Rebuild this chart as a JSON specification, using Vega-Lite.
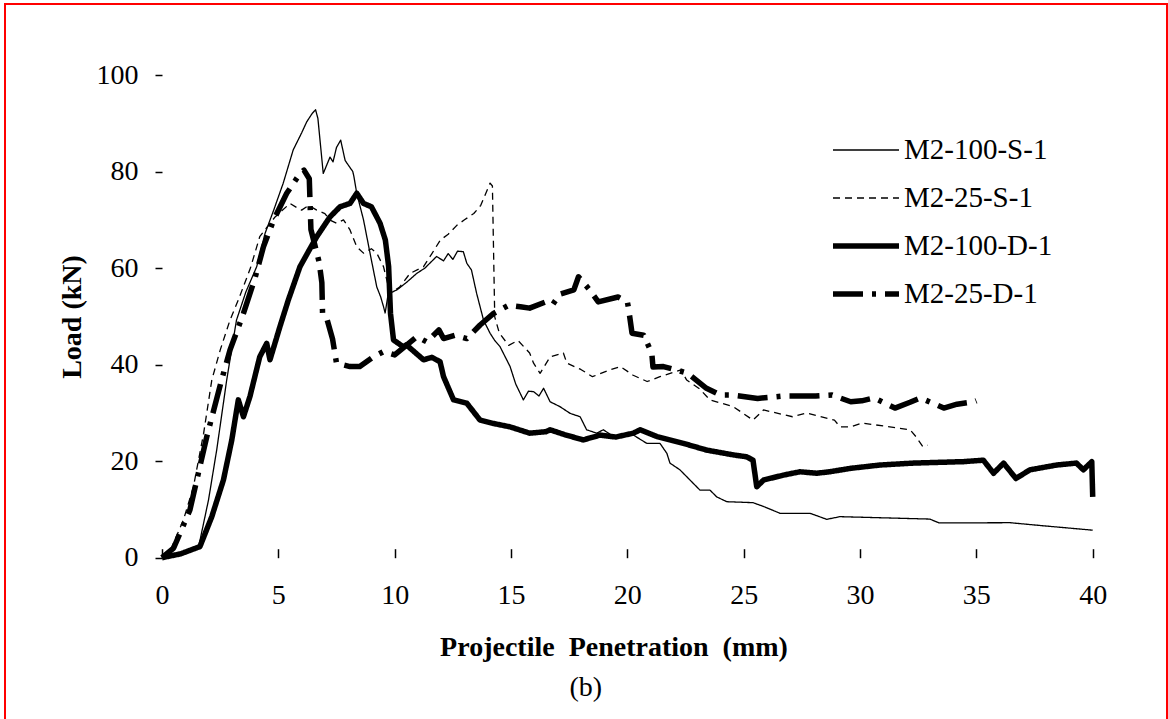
{
"$schema": "https://vega.github.io/schema/vega-lite/v6.json",
"width": 1162, "height": 718,
"autosize": {"type": "none"},
"padding": {"left": 5, "top": 4, "right": 1, "bottom": -3},
"background": "white",
"config": {
 "view": {"stroke": "#ff0000", "strokeWidth": 2},
 "font": "Liberation Serif",
 "axis": {"grid": false, "domain": false, "labelFont": "Liberation Serif", "labelFontSize": 28, "labelColor": "black", "tickColor": "black", "tickWidth": 1.5, "titleFont": "Liberation Serif", "titleFontSize": 28, "titleFontWeight": "bold", "titleColor": "black", "labelFlush": false, "labelOverlap": false}
},
"datasets": {"curves": [
{"series":"M2-100-S-1","x":0,"y":0},{"series":"M2-100-S-1","x":0.8,"y":0.8},{"series":"M2-100-S-1","x":1.56,"y":1.95},{"series":"M2-100-S-1","x":2.0,"y":12},{"series":"M2-100-S-1","x":2.35,"y":22.3},{"series":"M2-100-S-1","x":2.78,"y":36.8},{"series":"M2-100-S-1","x":3.2,"y":49.2},{"series":"M2-100-S-1","x":3.6,"y":55},{"series":"M2-100-S-1","x":4.07,"y":60.3},{"series":"M2-100-S-1","x":4.43,"y":67.2},{"series":"M2-100-S-1","x":4.8,"y":72},{"series":"M2-100-S-1","x":5.21,"y":77.6},{"series":"M2-100-S-1","x":5.64,"y":84.5},{"series":"M2-100-S-1","x":6.0,"y":88},{"series":"M2-100-S-1","x":6.22,"y":90.3},{"series":"M2-100-S-1","x":6.45,"y":92},{"series":"M2-100-S-1","x":6.6,"y":92.8},{"series":"M2-100-S-1","x":6.7,"y":91},{"series":"M2-100-S-1","x":6.93,"y":79.6},{"series":"M2-100-S-1","x":7.05,"y":81},{"series":"M2-100-S-1","x":7.22,"y":83},{"series":"M2-100-S-1","x":7.35,"y":82},{"series":"M2-100-S-1","x":7.5,"y":85},{"series":"M2-100-S-1","x":7.68,"y":86.5},{"series":"M2-100-S-1","x":7.87,"y":82.3},{"series":"M2-100-S-1","x":8.04,"y":81.1},{"series":"M2-100-S-1","x":8.2,"y":80},{"series":"M2-100-S-1","x":8.25,"y":78.9},{"series":"M2-100-S-1","x":8.37,"y":75.5},{"series":"M2-100-S-1","x":8.66,"y":70},{"series":"M2-100-S-1","x":8.94,"y":63.1},{"series":"M2-100-S-1","x":9.23,"y":56.1},{"series":"M2-100-S-1","x":9.4,"y":54},{"series":"M2-100-S-1","x":9.52,"y":52},{"series":"M2-100-S-1","x":9.59,"y":50.7},{"series":"M2-100-S-1","x":9.7,"y":54},{"series":"M2-100-S-1","x":9.8,"y":54.8},{"series":"M2-100-S-1","x":10.1,"y":55.5},{"series":"M2-100-S-1","x":10.5,"y":57},{"series":"M2-100-S-1","x":10.95,"y":58.9},{"series":"M2-100-S-1","x":11.3,"y":60},{"series":"M2-100-S-1","x":11.8,"y":62.4},{"series":"M2-100-S-1","x":12.1,"y":61.5},{"series":"M2-100-S-1","x":12.3,"y":63},{"series":"M2-100-S-1","x":12.5,"y":61.8},{"series":"M2-100-S-1","x":12.7,"y":63.5},{"series":"M2-100-S-1","x":12.95,"y":63.4},{"series":"M2-100-S-1","x":13.1,"y":61},{"series":"M2-100-S-1","x":13.3,"y":59.6},{"series":"M2-100-S-1","x":13.52,"y":54.8},{"series":"M2-100-S-1","x":13.82,"y":49.2},{"series":"M2-100-S-1","x":14.1,"y":46.5},{"series":"M2-100-S-1","x":14.3,"y":45},{"series":"M2-100-S-1","x":14.53,"y":43.7},{"series":"M2-100-S-1","x":14.96,"y":39.6},{"series":"M2-100-S-1","x":15.2,"y":36},{"series":"M2-100-S-1","x":15.53,"y":32.7},{"series":"M2-100-S-1","x":15.75,"y":34.5},{"series":"M2-100-S-1","x":15.97,"y":34.4},{"series":"M2-100-S-1","x":16.2,"y":33.5},{"series":"M2-100-S-1","x":16.4,"y":35.1},{"series":"M2-100-S-1","x":16.68,"y":32.3},{"series":"M2-100-S-1","x":17.1,"y":31.3},{"series":"M2-100-S-1","x":17.54,"y":29.9},{"series":"M2-100-S-1","x":17.97,"y":29.2},{"series":"M2-100-S-1","x":18.25,"y":26.5},{"series":"M2-100-S-1","x":18.68,"y":25.8},{"series":"M2-100-S-1","x":18.97,"y":26.5},{"series":"M2-100-S-1","x":19.4,"y":25.1},{"series":"M2-100-S-1","x":20.26,"y":25.4},{"series":"M2-100-S-1","x":20.83,"y":23.7},{"series":"M2-100-S-1","x":21.4,"y":23.7},{"series":"M2-100-S-1","x":21.7,"y":21.6},{"series":"M2-100-S-1","x":21.83,"y":19.6},{"series":"M2-100-S-1","x":22.26,"y":18.2},{"series":"M2-100-S-1","x":22.69,"y":16.1},{"series":"M2-100-S-1","x":23.12,"y":14},{"series":"M2-100-S-1","x":23.55,"y":14},{"series":"M2-100-S-1","x":23.84,"y":12.6},{"series":"M2-100-S-1","x":24.27,"y":11.6},{"series":"M2-100-S-1","x":25.4,"y":11.4},{"series":"M2-100-S-1","x":25.86,"y":10.6},{"series":"M2-100-S-1","x":26.56,"y":9.2},{"series":"M2-100-S-1","x":27.85,"y":9.2},{"series":"M2-100-S-1","x":28.57,"y":7.95},{"series":"M2-100-S-1","x":29.14,"y":8.5},{"series":"M2-100-S-1","x":33.0,"y":8.0},{"series":"M2-100-S-1","x":33.4,"y":7.2},{"series":"M2-100-S-1","x":36.45,"y":7.25},{"series":"M2-100-S-1","x":37.9,"y":6.6},{"series":"M2-100-S-1","x":40,"y":5.7},
{"series":"M2-25-S-1","x":0,"y":0},{"series":"M2-25-S-1","x":0.4,"y":2},{"series":"M2-25-S-1","x":0.92,"y":7.8},{"series":"M2-25-S-1","x":1.35,"y":14.7},{"series":"M2-25-S-1","x":1.79,"y":25.8},{"series":"M2-25-S-1","x":2.14,"y":36.8},{"series":"M2-25-S-1","x":2.5,"y":43},{"series":"M2-25-S-1","x":2.92,"y":49.2},{"series":"M2-25-S-1","x":3.28,"y":53.4},{"series":"M2-25-S-1","x":3.8,"y":60},{"series":"M2-25-S-1","x":4.2,"y":66.5},{"series":"M2-25-S-1","x":4.86,"y":70.6},{"series":"M2-25-S-1","x":5.5,"y":73.4},{"series":"M2-25-S-1","x":5.8,"y":72.5},{"series":"M2-25-S-1","x":6.0,"y":72},{"series":"M2-25-S-1","x":6.3,"y":73},{"series":"M2-25-S-1","x":6.65,"y":72},{"series":"M2-25-S-1","x":7.0,"y":71.3},{"series":"M2-25-S-1","x":7.2,"y":70},{"series":"M2-25-S-1","x":7.5,"y":69.3},{"series":"M2-25-S-1","x":7.8,"y":70},{"series":"M2-25-S-1","x":8.08,"y":67.9},{"series":"M2-25-S-1","x":8.37,"y":64.4},{"series":"M2-25-S-1","x":8.66,"y":63.1},{"series":"M2-25-S-1","x":9.0,"y":64},{"series":"M2-25-S-1","x":9.23,"y":63.1},{"series":"M2-25-S-1","x":9.52,"y":60.3},{"series":"M2-25-S-1","x":9.8,"y":54.8},{"series":"M2-25-S-1","x":10.2,"y":56},{"series":"M2-25-S-1","x":10.66,"y":58.9},{"series":"M2-25-S-1","x":11.24,"y":60.3},{"series":"M2-25-S-1","x":11.6,"y":63},{"series":"M2-25-S-1","x":11.96,"y":65.8},{"series":"M2-25-S-1","x":12.3,"y":67},{"series":"M2-25-S-1","x":12.68,"y":68.9},{"series":"M2-25-S-1","x":13.0,"y":70},{"series":"M2-25-S-1","x":13.4,"y":71.3},{"series":"M2-25-S-1","x":13.7,"y":73},{"series":"M2-25-S-1","x":14.1,"y":77.6},{"series":"M2-25-S-1","x":14.2,"y":77},{"series":"M2-25-S-1","x":14.3,"y":49.9},{"series":"M2-25-S-1","x":14.5,"y":46.5},{"series":"M2-25-S-1","x":14.9,"y":44},{"series":"M2-25-S-1","x":15.3,"y":45},{"series":"M2-25-S-1","x":15.8,"y":42.4},{"series":"M2-25-S-1","x":15.97,"y":40.3},{"series":"M2-25-S-1","x":16.25,"y":38.2},{"series":"M2-25-S-1","x":16.68,"y":41.6},{"series":"M2-25-S-1","x":17.25,"y":42.4},{"series":"M2-25-S-1","x":17.4,"y":40.3},{"series":"M2-25-S-1","x":18.0,"y":39},{"series":"M2-25-S-1","x":18.5,"y":37.5},{"series":"M2-25-S-1","x":19.25,"y":38.9},{"series":"M2-25-S-1","x":19.7,"y":39.6},{"series":"M2-25-S-1","x":20.25,"y":37.8},{"series":"M2-25-S-1","x":20.85,"y":36.5},{"series":"M2-25-S-1","x":21.4,"y":37.5},{"series":"M2-25-S-1","x":22.3,"y":38.9},{"series":"M2-25-S-1","x":22.55,"y":36.8},{"series":"M2-25-S-1","x":23.1,"y":35},{"series":"M2-25-S-1","x":23.55,"y":32.7},{"series":"M2-25-S-1","x":24.55,"y":31.3},{"series":"M2-25-S-1","x":25.4,"y":28.5},{"series":"M2-25-S-1","x":25.85,"y":30.6},{"series":"M2-25-S-1","x":27.1,"y":29.2},{"series":"M2-25-S-1","x":27.7,"y":30},{"series":"M2-25-S-1","x":28.9,"y":28.5},{"series":"M2-25-S-1","x":29.14,"y":27.1},{"series":"M2-25-S-1","x":29.6,"y":27.1},{"series":"M2-25-S-1","x":30.1,"y":27.9},{"series":"M2-25-S-1","x":32.15,"y":26.5},{"series":"M2-25-S-1","x":32.4,"y":25.1},{"series":"M2-25-S-1","x":32.7,"y":23},{"series":"M2-25-S-1","x":32.9,"y":23.3},
{"series":"M2-100-D-1","x":0,"y":0},{"series":"M2-100-D-1","x":0.8,"y":0.8},{"series":"M2-100-D-1","x":1.63,"y":2.3},{"series":"M2-100-D-1","x":2.14,"y":8.5},{"series":"M2-100-D-1","x":2.64,"y":16.1},{"series":"M2-100-D-1","x":3.0,"y":24.4},{"series":"M2-100-D-1","x":3.28,"y":32.7},{"series":"M2-100-D-1","x":3.5,"y":29.2},{"series":"M2-100-D-1","x":3.78,"y":33.4},{"series":"M2-100-D-1","x":4.2,"y":41.6},{"series":"M2-100-D-1","x":4.5,"y":44.4},{"series":"M2-100-D-1","x":4.64,"y":41},{"series":"M2-100-D-1","x":5.07,"y":47.9},{"series":"M2-100-D-1","x":5.43,"y":53.4},{"series":"M2-100-D-1","x":5.93,"y":60.3},{"series":"M2-100-D-1","x":6.3,"y":63.5},{"series":"M2-100-D-1","x":6.65,"y":66.5},{"series":"M2-100-D-1","x":7.22,"y":70.6},{"series":"M2-100-D-1","x":7.65,"y":72.7},{"series":"M2-100-D-1","x":8.08,"y":73.4},{"series":"M2-100-D-1","x":8.37,"y":75.5},{"series":"M2-100-D-1","x":8.66,"y":73.4},{"series":"M2-100-D-1","x":9.0,"y":72.7},{"series":"M2-100-D-1","x":9.37,"y":69.3},{"series":"M2-100-D-1","x":9.6,"y":65.8},{"series":"M2-100-D-1","x":9.74,"y":60.3},{"series":"M2-100-D-1","x":9.82,"y":50.6},{"series":"M2-100-D-1","x":9.95,"y":45.1},{"series":"M2-100-D-1","x":10.37,"y":43.7},{"series":"M2-100-D-1","x":10.5,"y":44.1},{"series":"M2-100-D-1","x":11.24,"y":41},{"series":"M2-100-D-1","x":11.6,"y":41.5},{"series":"M2-100-D-1","x":11.95,"y":40.6},{"series":"M2-100-D-1","x":12.1,"y":37.5},{"series":"M2-100-D-1","x":12.53,"y":32.7},{"series":"M2-100-D-1","x":13.1,"y":32},{"series":"M2-100-D-1","x":13.67,"y":28.5},{"series":"M2-100-D-1","x":14.25,"y":27.8},{"series":"M2-100-D-1","x":14.96,"y":27.1},{"series":"M2-100-D-1","x":15.8,"y":25.8},{"series":"M2-100-D-1","x":16.5,"y":26.1},{"series":"M2-100-D-1","x":16.68,"y":26.5},{"series":"M2-100-D-1","x":17.3,"y":25.5},{"series":"M2-100-D-1","x":18.1,"y":24.4},{"series":"M2-100-D-1","x":18.83,"y":25.4},{"series":"M2-100-D-1","x":19.5,"y":25},{"series":"M2-100-D-1","x":20.26,"y":25.8},{"series":"M2-100-D-1","x":20.55,"y":26.5},{"series":"M2-100-D-1","x":21.27,"y":25.1},{"series":"M2-100-D-1","x":22.4,"y":23.7},{"series":"M2-100-D-1","x":23.4,"y":22.3},{"series":"M2-100-D-1","x":24.55,"y":21.3},{"series":"M2-100-D-1","x":25.13,"y":20.9},{"series":"M2-100-D-1","x":25.4,"y":20.2},{"series":"M2-100-D-1","x":25.56,"y":14.7},{"series":"M2-100-D-1","x":25.86,"y":16.1},{"series":"M2-100-D-1","x":26.7,"y":17.1},{"series":"M2-100-D-1","x":27.42,"y":17.8},{"series":"M2-100-D-1","x":28.14,"y":17.5},{"series":"M2-100-D-1","x":28.7,"y":17.8},{"series":"M2-100-D-1","x":29.57,"y":18.5},{"series":"M2-100-D-1","x":30.86,"y":19.2},{"series":"M2-100-D-1","x":32.3,"y":19.6},{"series":"M2-100-D-1","x":34.45,"y":19.9},{"series":"M2-100-D-1","x":35.3,"y":20.2},{"series":"M2-100-D-1","x":35.74,"y":17.5},{"series":"M2-100-D-1","x":36.17,"y":19.6},{"series":"M2-100-D-1","x":36.7,"y":16.4},{"series":"M2-100-D-1","x":37.3,"y":18.2},{"series":"M2-100-D-1","x":38.45,"y":19.2},{"series":"M2-100-D-1","x":39.3,"y":19.6},{"series":"M2-100-D-1","x":39.6,"y":18.2},{"series":"M2-100-D-1","x":39.96,"y":19.9},{"series":"M2-100-D-1","x":40,"y":12.6},
{"series":"M2-25-D-1","x":0,"y":0},{"series":"M2-25-D-1","x":0.5,"y":2},{"series":"M2-25-D-1","x":1.2,"y":9.9},{"series":"M2-25-D-1","x":1.92,"y":25},{"series":"M2-25-D-1","x":2.56,"y":36.8},{"series":"M2-25-D-1","x":2.92,"y":43},{"series":"M2-25-D-1","x":3.5,"y":50.6},{"series":"M2-25-D-1","x":4.0,"y":58},{"series":"M2-25-D-1","x":4.36,"y":64.4},{"series":"M2-25-D-1","x":4.8,"y":70},{"series":"M2-25-D-1","x":5.36,"y":75.5},{"series":"M2-25-D-1","x":5.93,"y":79.6},{"series":"M2-25-D-1","x":6.1,"y":80.3},{"series":"M2-25-D-1","x":6.33,"y":78.5},{"series":"M2-25-D-1","x":6.36,"y":74},{"series":"M2-25-D-1","x":6.4,"y":68},{"series":"M2-25-D-1","x":6.75,"y":61.3},{"series":"M2-25-D-1","x":6.87,"y":57},{"series":"M2-25-D-1","x":6.9,"y":50.6},{"series":"M2-25-D-1","x":7.08,"y":49.6},{"series":"M2-25-D-1","x":7.33,"y":45.3},{"series":"M2-25-D-1","x":7.5,"y":40.3},{"series":"M2-25-D-1","x":8.08,"y":39.6},{"series":"M2-25-D-1","x":8.5,"y":39.6},{"series":"M2-25-D-1","x":9.08,"y":41.6},{"series":"M2-25-D-1","x":9.52,"y":42.7},{"series":"M2-25-D-1","x":10.0,"y":42},{"series":"M2-25-D-1","x":10.5,"y":44},{"series":"M2-25-D-1","x":10.95,"y":45.8},{"series":"M2-25-D-1","x":11.38,"y":44.7},{"series":"M2-25-D-1","x":11.9,"y":47.2},{"series":"M2-25-D-1","x":12.1,"y":45.4},{"series":"M2-25-D-1","x":12.6,"y":46.1},{"series":"M2-25-D-1","x":13.1,"y":45.4},{"series":"M2-25-D-1","x":13.67,"y":48.2},{"series":"M2-25-D-1","x":14.25,"y":50.6},{"series":"M2-25-D-1","x":14.9,"y":52.3},{"series":"M2-25-D-1","x":15.4,"y":52},{"series":"M2-25-D-1","x":15.8,"y":51.7},{"series":"M2-25-D-1","x":16.5,"y":53},{"series":"M2-25-D-1","x":16.8,"y":52.5},{"series":"M2-25-D-1","x":17.1,"y":54.6},{"series":"M2-25-D-1","x":17.7,"y":55.5},{"series":"M2-25-D-1","x":17.9,"y":58.2},{"series":"M2-25-D-1","x":18.36,"y":55.6},{"series":"M2-25-D-1","x":18.75,"y":53},{"series":"M2-25-D-1","x":19.6,"y":54},{"series":"M2-25-D-1","x":20.0,"y":53},{"series":"M2-25-D-1","x":20.05,"y":51.7},{"series":"M2-25-D-1","x":20.2,"y":46.5},{"series":"M2-25-D-1","x":20.7,"y":46.1},{"series":"M2-25-D-1","x":21.05,"y":42.4},{"series":"M2-25-D-1","x":21.1,"y":39.5},{"series":"M2-25-D-1","x":21.55,"y":39.6},{"series":"M2-25-D-1","x":22.1,"y":38.9},{"series":"M2-25-D-1","x":22.6,"y":38.2},{"series":"M2-25-D-1","x":23.4,"y":35.1},{"series":"M2-25-D-1","x":24.0,"y":33.7},{"series":"M2-25-D-1","x":24.5,"y":33.7},{"series":"M2-25-D-1","x":25.6,"y":33},{"series":"M2-25-D-1","x":26.06,"y":33.2},{"series":"M2-25-D-1","x":26.7,"y":33.5},{"series":"M2-25-D-1","x":27.7,"y":33.5},{"series":"M2-25-D-1","x":28.1,"y":33.5},{"series":"M2-25-D-1","x":28.8,"y":33.7},{"series":"M2-25-D-1","x":29.6,"y":32.3},{"series":"M2-25-D-1","x":30.07,"y":32.5},{"series":"M2-25-D-1","x":30.6,"y":33.1},{"series":"M2-25-D-1","x":31.5,"y":31},{"series":"M2-25-D-1","x":32.15,"y":32.2},{"series":"M2-25-D-1","x":32.6,"y":33.1},{"series":"M2-25-D-1","x":33.6,"y":31},{"series":"M2-25-D-1","x":34.17,"y":31.8},{"series":"M2-25-D-1","x":34.9,"y":32.3},{"series":"M2-25-D-1","x":35,"y":32.5}
]},
"layer": [
 {
  "data": {"name": "curves"},
  "mark": {"type": "line", "color": "black", "strokeJoin": "round"},
  "encoding": {
   "x": {"field": "x", "type": "quantitative",
     "scale": {"domain": [-6.748, 43.193], "nice": false, "zero": false},
     "axis": {"title": "Projectile\u00a0 Penetration\u00a0 (mm)", "values": [0,5,10,15,20,25,30,35,40], "offset": -164.3, "tickSize": -9, "labelPadding": 33, "titleX": 608.5, "titleY": 98, "titleBaseline": "alphabetic", "titleAnchor": null, "titleAlign": "center"}},
   "y": {"field": "y", "type": "quantitative",
     "scale": {"domain": [-34.04, 114.71], "nice": false, "zero": false},
     "axis": {"title": "Load (kN)", "values": [0,20,40,60,80,100], "offset": -157, "tickSize": 7, "labelPadding": 17, "titleX": -90, "titleY": 312.5, "titleAngle": 270, "titleBaseline": "middle", "titleAlign": "center"}},
   "strokeDash": {"field": "series", "type": "nominal",
     "scale": {"domain": ["M2-100-S-1", "M2-25-S-1", "M2-100-D-1", "M2-25-D-1"], "range": [[1,0],[7,5],[1,0],[30,9,4,9]]},
     "legend": {"orient": "none", "legendX": 825, "legendY": 131, "title": null, "symbolType": "stroke", "symbolSize": 4356, "symbolStrokeColor": "black", "labelFontSize": 29, "labelFont": "Liberation Serif", "labelColor": "black", "labelOffset": 2, "rowPadding": 18, "clipHeight": 30, "padding": 0}},
   "strokeWidth": {"field": "series", "type": "nominal",
     "scale": {"type": "ordinal", "domain": ["M2-100-S-1", "M2-25-S-1", "M2-100-D-1", "M2-25-D-1"], "range": [1.3, 1.3, 5.5, 5.5]},
     "legend": {"orient": "none", "legendX": 825, "legendY": 131, "title": null, "symbolType": "stroke", "symbolSize": 4356, "symbolStrokeColor": "black", "labelFontSize": 29, "labelFont": "Liberation Serif", "labelColor": "black", "labelOffset": 2, "rowPadding": 18, "clipHeight": 30, "padding": 0}}
  }
 },
 {"mark": {"type": "rule", "color": "black", "strokeWidth": 1.5}, "encoding": {"x": {"datum": 0}, "x2": {"datum": 40}, "y": {"datum": 0}}},
 {"mark": {"type": "rule", "color": "black", "strokeWidth": 1.5}, "encoding": {"x": {"datum": 0}, "y": {"datum": 0}, "y2": {"datum": 100}}},
 {"data": {"values": [{"caption": "(b)"}]},
  "mark": {"type": "text", "font": "Liberation Serif", "fontSize": 28, "fill": "black", "align": "center", "baseline": "middle"},
  "encoding": {"text": {"field": "caption", "type": "nominal"}, "x": {"datum": 18.21}, "y": {"datum": -27}}}
]
}
